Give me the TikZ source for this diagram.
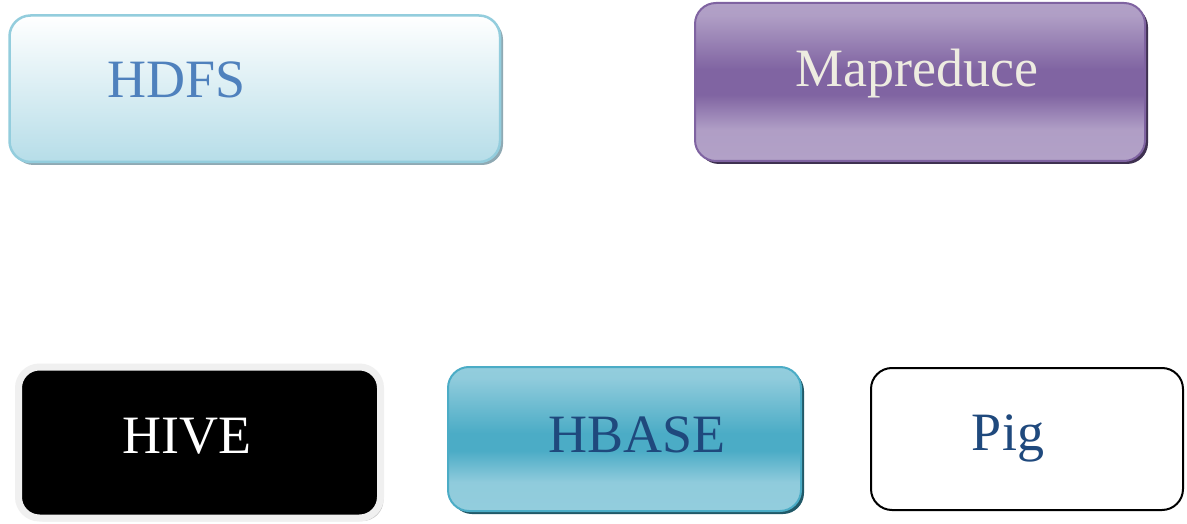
\documentclass[tikz,border=0pt]{standalone}
\usepackage{fontspec}
\setmainfont{Liberation Serif}
\usetikzlibrary{shadows}
\definecolor{hdfsline}{HTML}{93CDDD}
\definecolor{hdfsbot}{HTML}{B6DDE8}
\definecolor{hdfsshadow}{HTML}{8FA9B3}
\definecolor{hdfstext}{HTML}{4F81BD}
\definecolor{mrlight}{HTML}{B2A1C7}
\definecolor{mrdark}{HTML}{8064A2}
\definecolor{mrline}{HTML}{7F63A1}
\definecolor{mrshadow}{HTML}{3F3151}
\definecolor{mrtext}{HTML}{EEECE1}
\definecolor{hblight}{HTML}{93CDDD}
\definecolor{hbdark}{HTML}{4BACC6}
\definecolor{hbshadow}{HTML}{215968}
\definecolor{darkbluetext}{HTML}{1F497D}
\definecolor{hiveframe}{HTML}{F0F0F0}
\definecolor{hiveshadow}{HTML}{C8C8C8}
% glossy band shadings: light at the edges, darkest across the middle
\pgfdeclareverticalshading{mrgloss}{100bp}{%
  color(0bp)=(mrlight); color(25bp)=(mrlight); color(35bp)=(mrlight!95!mrdark);
  color(46bp)=(mrdark); color(54bp)=(mrdark);
  color(71bp)=(mrlight!95!mrdark); color(75bp)=(mrlight); color(100bp)=(mrlight)}
\pgfdeclareverticalshading{hbgloss}{100bp}{%
  color(0bp)=(hblight); color(25bp)=(hblight); color(35bp)=(hblight!95!hbdark);
  color(46bp)=(hbdark); color(52bp)=(hbdark);
  color(71bp)=(hblight!95!hbdark); color(75bp)=(hblight); color(100bp)=(hblight)}
\tikzset{
  box/.style={rectangle, rounded corners=21pt, inner sep=0pt, outer sep=0pt, anchor=north west},
  shadowed/.style={general shadow={shadow xshift=3pt, shadow yshift=-3pt, fill=#1}},
  label text/.style={inner sep=0pt, anchor=base, font=\fontsize{54}{60}\selectfont}
}
\begin{document}
\begin{tikzpicture}[x=1pt,y=-1pt]
\useasboundingbox[fill=white] (0,0) rectangle (1187,524);

% top row
\node[box, shadowed=hdfsshadow, draw=hdfsline, line width=2.5pt,
      top color=white, bottom color=hdfsbot,
      minimum width=490.5pt, minimum height=146.5pt] (hdfs) at (9.5,15.5) {};
\node[label text, text=hdfstext] (hdfs-t) at (177,98) {HDFS};

\node[box, shadowed=mrshadow, draw=mrline, line width=2pt, shading=mrgloss,
      minimum width=450pt, minimum height=158pt] (mapreduce) at (695,3) {};
\node[label text, text=mrtext] (mapreduce-t) at (917,87) {Mapreduce};

% bottom row
\node[box, shadowed=hiveshadow, draw=hiveframe, line width=7pt, fill=black,
      minimum width=362pt, minimum height=151pt] (hive) at (18.5,367) {};
\node[label text, text=white] (hive-t) at (187,453) {HIVE};

\node[box, shadowed=hbshadow, draw=hbdark, line width=2pt, shading=hbgloss,
      minimum width=353pt, minimum height=144pt] (hbase) at (448,367) {};
\node[label text, text=darkbluetext] (hbase-t) at (637,452) {HBASE};

\node[box, draw=black, line width=2pt, fill=white,
      minimum width=312pt, minimum height=142pt] (pig) at (871,368) {};
\node[label text, text=darkbluetext] (pig-t) at (1008,450) {Pig};
\end{tikzpicture}
\end{document}
